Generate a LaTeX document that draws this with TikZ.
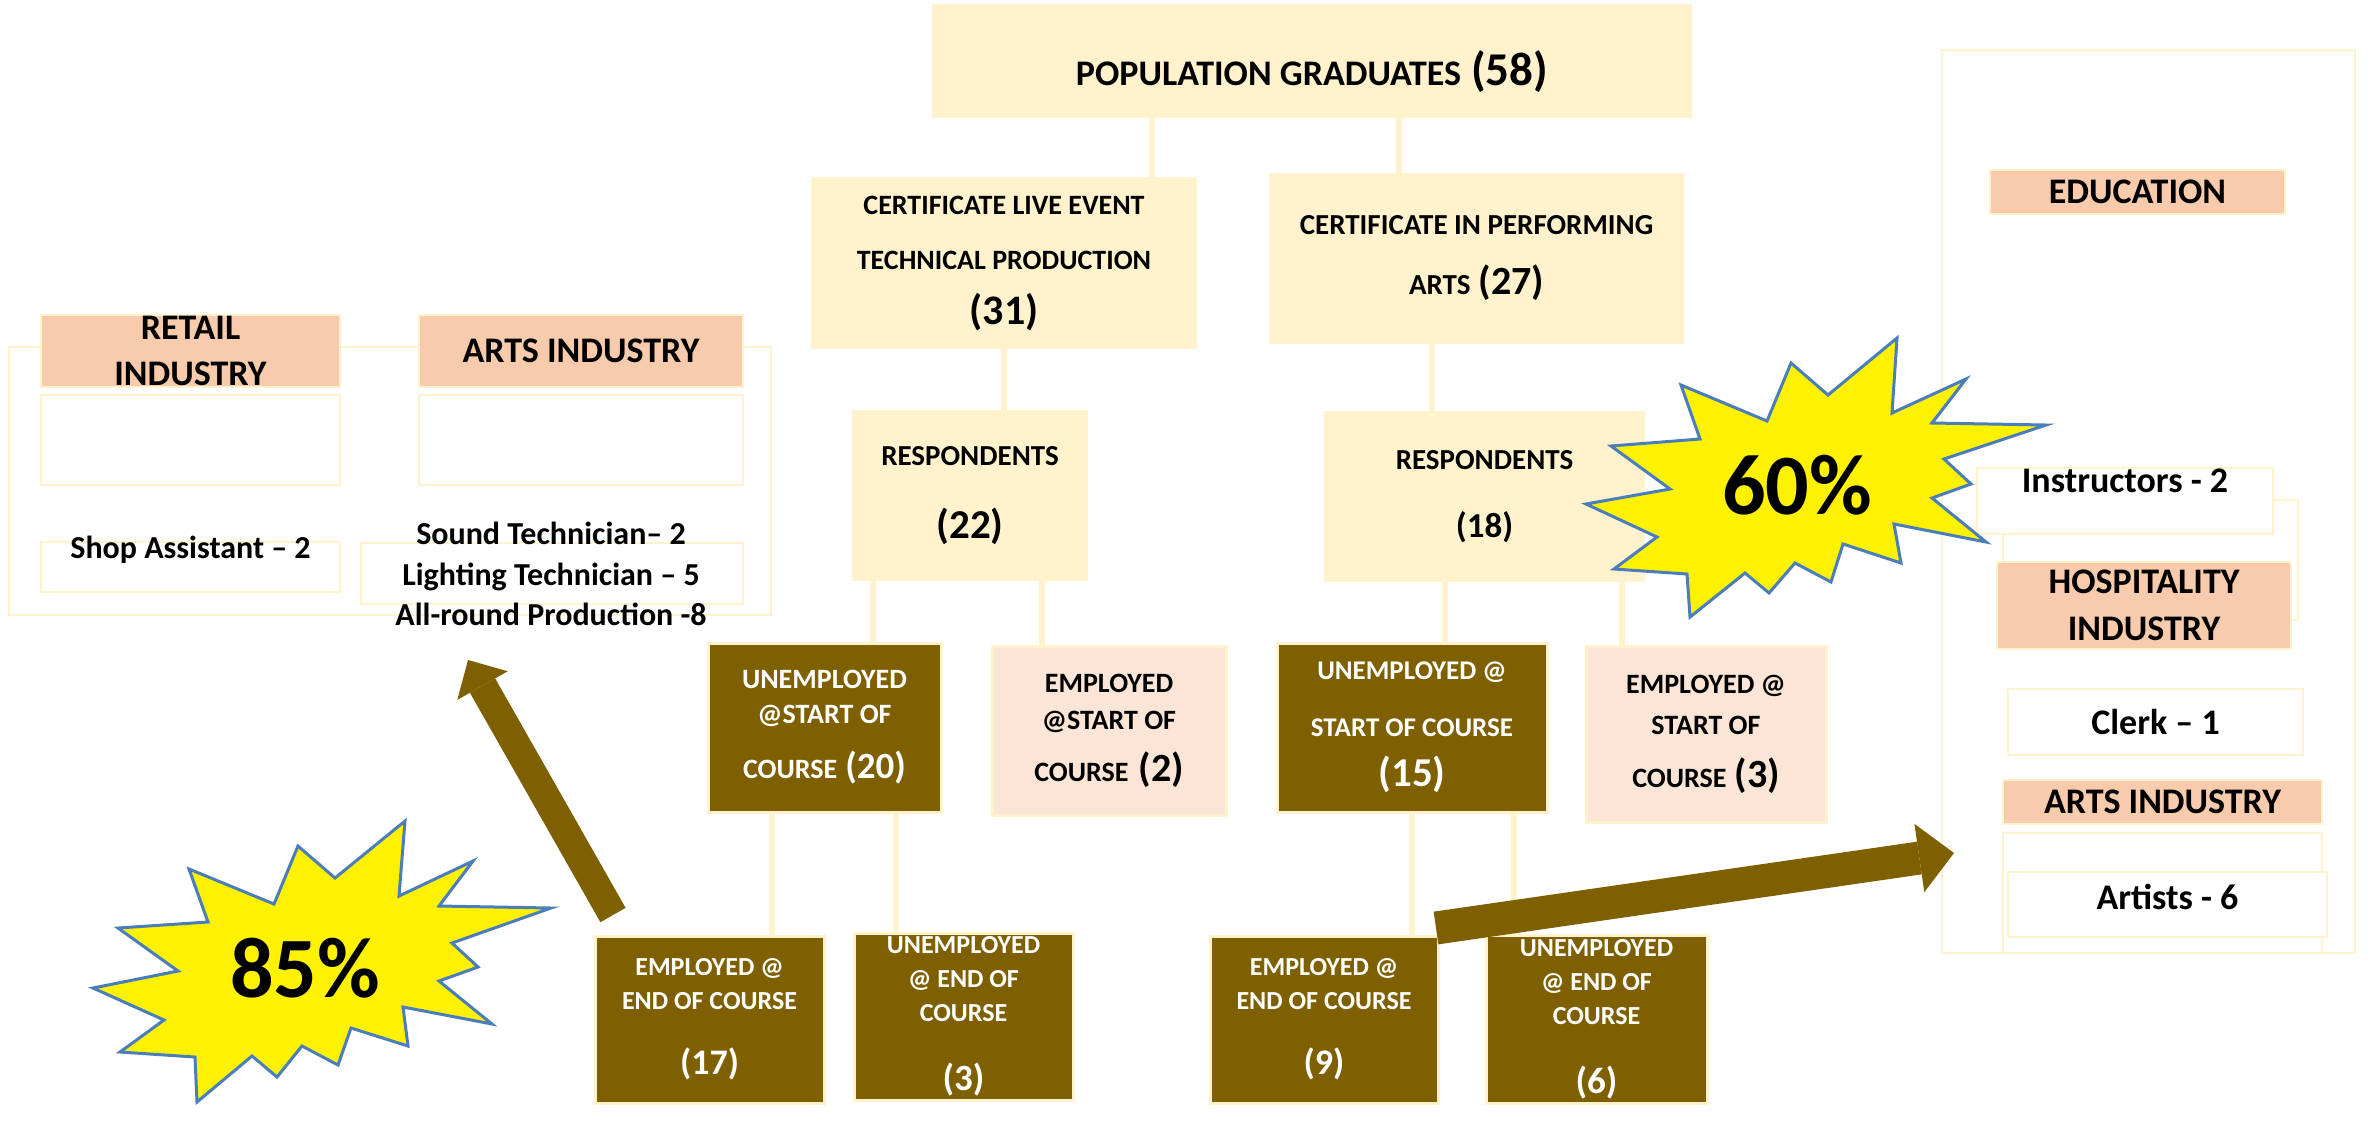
\documentclass[tikz,border=0pt]{standalone}
\usepackage{fontspec}
\setmainfont{Carlito}
\usepackage{tikz}
\usetikzlibrary{arrows.meta}
\usepackage{xcolor}
\definecolor{lyel}{HTML}{FFF2CC}
\definecolor{mud}{HTML}{7F6000}
\definecolor{blush}{HTML}{FBE5D6}
\definecolor{peach}{HTML}{F8CBAD}
\definecolor{starline}{HTML}{4A7EBB}
\newcommand{\cnt}[2]{{\fontsize{#1}{#1}\selectfont(#2)}}

\begin{document}
\begin{tikzpicture}[%
    x=0.5pt,y=-0.5pt,
    sz/.style 2 args={minimum width=#1*0.5pt,minimum height=#2*0.5pt},
    fnt/.style 2 args={font=\bfseries\fontsize{#1}{#2}\selectfont},
    cell/.style={rectangle,inner sep=0pt,outer sep=0pt,align=center,font=\bfseries},
    litebox/.style={cell,fill=lyel},
    darkbox/.style={cell,fill=mud,draw=lyel,line width=1.5pt,text=white},
    pinkbox/.style={cell,fill=blush,draw=lyel,line width=1.5pt},
    headbox/.style={cell,fill=peach,draw=lyel,line width=1pt},
    wbox/.style={cell,fill=white,draw=lyel,line width=1pt},
    panel/.style={rectangle,inner sep=0pt,draw=lyel,line width=1pt},
    link/.style={draw=lyel,line width=3pt},
    burst/.style={fill=yellow,draw=starline,line width=1.5pt,line join=miter},
    bursttxt/.style={font=\bfseries\fontsize{43}{43}\selectfont},
    bigarrow/.style={draw=mud,line cap=butt}
  ]
    \fill[white] (0,0) rectangle (2371,1132);
    \useasboundingbox (0,0) rectangle (2371,1132);

    % side panels
    \node[panel, sz={762}{268}] (lpan) at (390,481) {};
    \node[panel, sz={413}{903}] (rpan) at (2148.5,501.5) {};

    % the tree
    \node[litebox, sz={760}{114}, fnt={18}{22}, text height=30pt, text depth=6pt] (pop) at (1312,61)
        {POPULATION GRADUATES\hspace{5pt}\cnt{23.5}{58}};
    \node[litebox, sz={386}{172}, fnt={14}{27.5}] (cle) at (1004,263)
        {CERTIFICATE LIVE EVENT\\TECHNICAL PRODUCTION\\\cnt{21}{31}};
    \node[litebox, sz={415}{171}, fnt={14.5}{30}] (cpa) at (1476.5,258.5)
        {CERTIFICATE IN PERFORMING\\ARTS\hspace{4pt}\cnt{20}{27}};
    \node[litebox, sz={236}{171}, fnt={14.5}{36.5}] (resp1) at (970,495.5) {RESPONDENTS\\\cnt{20.5}{22}};
    \node[litebox, sz={321}{171}, fnt={14.5}{34}] (resp2) at (1484.5,496.5) {RESPONDENTS\\\cnt{17.5}{18}};
    \node[darkbox, sz={233}{169}, fnt={14}{17.5}] (un1) at (824.5,727.5)
        {UNEMPLOYED\\@START OF\\[10pt]COURSE\hspace{4pt}\cnt{18.5}{20}};
    \node[pinkbox, sz={234}{169}, fnt={14}{18.5}] (em1) at (1109,730.5)
        {EMPLOYED\\@START OF\\[7.5pt]COURSE\hspace{5pt}\cnt{20}{2}};
    \node[darkbox, sz={270}{169}, fnt={13.5}{28.5}] (un2) at (1412,727.5)
        {UNEMPLOYED @\\START OF COURSE\\[-3.5pt]\cnt{20.5}{15}};
    \node[pinkbox, sz={240}{176}, fnt={14}{20.5}] (em2) at (1706,734)
        {EMPLOYED @\\START OF\\[6pt]COURSE\hspace{4pt}\cnt{20}{3}};
    \node[darkbox, sz={229}{167}, fnt={13}{17}] (end1) at (709.5,1019.5)
        {EMPLOYED @\\END OF COURSE\\[15.5pt]\cnt{18}{17}};
    \node[darkbox, sz={219}{167}, fnt={13}{17}] (end2) at (963.5,1016.5)
        {UNEMPLOYED\\@ END OF\\COURSE\\[17.5pt]\cnt{18.5}{3}};
    \node[darkbox, sz={228}{167}, fnt={13}{17}] (end3) at (1324,1019.5)
        {EMPLOYED @\\END OF COURSE\\[15.5pt]\cnt{18}{9}};
    \node[darkbox, sz={221}{168}, fnt={13}{17}] (end4) at (1596.5,1019)
        {UNEMPLOYED\\@ END OF\\COURSE\\[17.5pt]\cnt{18.5}{6}};

    % left panel
    \node[headbox, sz={299}{72}] (rethd) at (190.5,351) {};
    \node[cell, fnt={18}{23}] (rettxt) at (190.5,351) {RETAIL\\INDUSTRY};
    \node[headbox, sz={324}{72}, fnt={18}{22}] (arthd1) at (581,351) {ARTS INDUSTRY};
    \node[wbox, sz={299}{90}] (retbl) at (190.5,440) {};
    \node[wbox, sz={324}{90}] (artbl) at (581,440) {};
    \node[wbox, sz={299}{50}, fnt={16}{20}, text height=8pt, text depth=17pt] (shop) at (190.5,567)
        {Shop Assistant – 2};
    \node[wbox, sz={382}{61}] (techbox) at (552,573.5) {};
    \node[cell, fnt={16}{20.25}] (techtxt) at (551,574)
        {Sound Technician– 2\\Lighting Technician – 5\\All-round Production -8};

    % right panel
    \node[headbox, sz={295}{44}, fnt={18}{22}] (edu) at (2137.5,192) {EDUCATION};
    \node[wbox, sz={295}{120}] (instbk) at (2150.5,560) {};
    \node[wbox, sz={296}{66}, fnt={18}{22}, text height=12.3pt, text depth=20.7pt] (inst) at (2125,501)
        {Instructors - 2};
    \node[headbox, sz={294}{87}, fnt={18}{23.5}] (hosp) at (2144,605.5) {HOSPITALITY\\INDUSTRY};
    \node[wbox, sz={295}{66}, fnt={18}{22}] (clerk) at (2155.5,722) {Clerk – 1};
    \node[headbox, sz={319}{44}, fnt={18}{22}] (arthd2) at (2162.5,802) {ARTS INDUSTRY};
    \node[wbox, sz={319}{120}] (artbk) at (2162.5,893) {};
    \node[wbox, sz={319}{65}, fnt={18}{22}, text height=12pt, text depth=7pt] (artist) at (2167.5,904.5)
        {Artists - 6};

    % connectors
    \draw[link] (pop.south -| 1152,0) -- (cle.north -| 1152,0);
    \draw[link] (pop.south -| 1399,0) -- (cpa.north -| 1399,0);
    \draw[link] (cle.south) -- (resp1.north -| cle.south);
    \draw[link] (cpa.south -| 1432,0) -- (resp2.north -| 1432,0);
    \draw[link] (resp1.south -| 873,0) -- (un1.north -| 873,0);
    \draw[link] (resp1.south -| 1042,0) -- (em1.north -| 1042,0);
    \draw[link] (resp2.south -| 1445,0) -- (un2.north -| 1445,0);
    \draw[link] (resp2.south -| 1622,0) -- (em2.north -| 1622,0);
    \draw[link] (un1.south -| 772,0) -- (end1.north -| 772,0);
    \draw[link] (un1.south -| 896,0) -- (end2.north -| 896,0);
    \draw[link] (un2.south -| 1412,0) -- (end3.north -| 1412,0);
    \draw[link] (un2.south -| 1514,0) -- (end4.north -| 1514,0);

    % bursts
    \draw[burst] (1611,446) -- (1700,439) -- (1681,385) -- (1767,421) -- (1791,363) -- (1828,395)
        -- (1897,338) -- (1892,413) -- (1966,379) -- (1932,423) -- (2046,425) -- (1944,459)
        -- (1971,484) -- (1932,498) -- (1986,542) -- (1894,524) -- (1901,563) -- (1843,544)
        -- (1831,582) -- (1795,563) -- (1769,593) -- (1745,573) -- (1690,617) -- (1687,574)
        -- (1614,569) -- (1657,537) -- (1586,504) -- (1670,489) -- cycle;
    \node[bursttxt] (p60) at (1797,485) {60\%};
    \draw[burst] (405,821) -- (399,896) -- (473,861) -- (439,906) -- (551,908) -- (452,943)
        -- (478,967) -- (439,981) -- (492,1024) -- (403,1007) -- (408,1046) -- (351,1028)
        -- (338,1065) -- (302,1046) -- (277,1077) -- (252,1056) -- (197,1102) -- (195,1057)
        -- (120,1052) -- (164,1020) -- (93,988) -- (178,971) -- (118,928) -- (208,922)
        -- (189,869) -- (274,904) -- (298,846) -- (335,878) -- cycle;
    \node[bursttxt] (p85) at (305,968) {85\%};

    % big arrows
    \coordinate (a1s) at ([shift={(18,-21)}]end1.north west);
    \coordinate (a1e) at (468,660);
    \draw[bigarrow, line width=14.5pt, -{Triangle[length=14.7pt,width=29pt,line width=0pt]}] (a1s) -- (a1e);
    \coordinate (a2s) at ([shift={(-2,-8)}]end3.north east);
    \coordinate (a2e) at (1954,853);
    \draw[bigarrow, line width=16.5pt, -{Triangle[length=17.5pt,width=34.5pt,line width=0pt]}] (a2s) -- (a2e);
\end{tikzpicture}
\end{document}
